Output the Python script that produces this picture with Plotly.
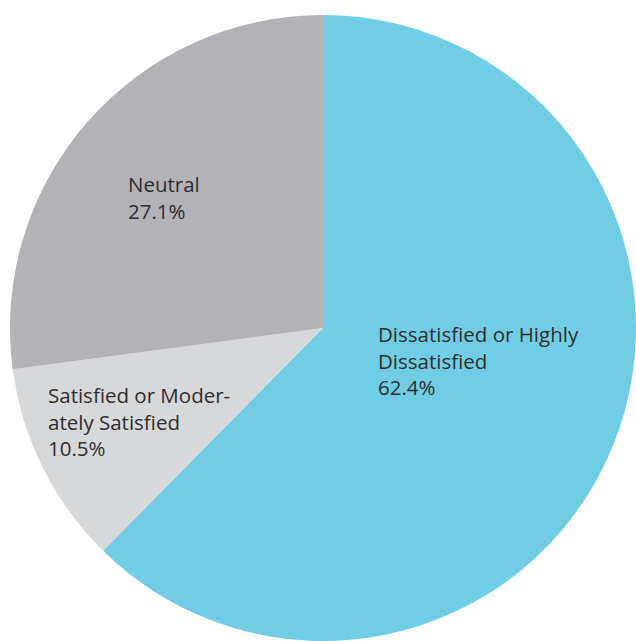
import plotly.graph_objects as go

# Survey satisfaction breakdown
categories = ["Dissatisfied or Highly Dissatisfied", "Satisfied or Moderately Satisfied", "Neutral"]
label_lines = [
    ["Dissatisfied or Highly", "Dissatisfied"],
    ["Satisfied or Moder-", "ately Satisfied"],
    ["Neutral"],
]
shares = [62.4, 10.5, 27.1]
colors = ["#70CDE4", "#D7D8DA", "#B3B2B7"]

W, H = 636, 641

fig = go.Figure(
    go.Pie(
        labels=categories,
        values=shares,
        sort=False,
        direction="clockwise",
        rotation=0,
        marker=dict(colors=colors, line=dict(width=0)),
        textinfo="none",
        hoverinfo="label+percent",
        domain=dict(x=[10 / W, 1.0], y=[0.0, 1 - 15 / H]),
        showlegend=False,
    )
)

# Label anchors (top-left corner of each text block, in pixels)
label_pos = [(376, 318), (46, 379), (126, 168)]

for lines, val, (px, py) in zip(label_lines, shares, label_pos):
    fig.add_annotation(
        x=px / W,
        y=1 - py / H,
        xref="paper",
        yref="paper",
        xanchor="left",
        yanchor="top",
        align="left",
        showarrow=False,
        text="<br>".join(lines + [f"{val}%"]),
        font=dict(family="Open Sans", size=20.5, color="#2E2E2E"),
    )

fig.update_layout(
    width=W,
    height=H,
    margin=dict(l=0, r=0, t=0, b=0),
    paper_bgcolor="white",
    plot_bgcolor="white",
)

fig.write_html("out.html")
